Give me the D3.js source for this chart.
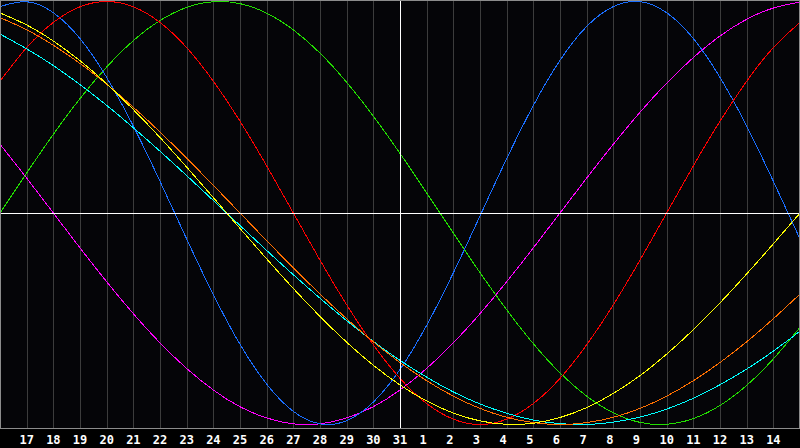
<!DOCTYPE html>
<html>
<head>
<meta charset="utf-8">
<script src="https://cdn.jsdelivr.net/npm/d3@7"></script>
<style>
html,body{margin:0;padding:0;background:#000;}
svg{display:block;}
</style>
</head>
<body>
<svg id="chart" width="800" height="448"></svg>
<script>
// Day labels for each grid column (index 0 = left edge, 30 = right edge)
const days = ["16","17","18","19","20","21","22","23","24","25","26","27","28","29","30","31",
              "1","2","3","4","5","6","7","8","9","10","11","12","13","14","15"];
const todayIndex = 15; // "31"

// Series values per day (range -1 .. 1)
const red = [0.623,0.782,0.901,0.975,1.000,0.975,0.901,0.782,0.623,0.434,0.223,0,-0.223,-0.434,-0.623,-0.782,
             -0.901,-0.975,-1.000,-0.975,-0.901,-0.782,-0.623,-0.434,-0.223,0,0.223,0.434,0.623,0.782,0.901];
const blue = [0.976,0.999,0.947,0.825,0.641,0.411,0.150,-0.123,-0.386,-0.621,-0.809,-0.938,-0.997,-0.982,-0.894,-0.740,
              -0.531,-0.283,-0.014,0.257,0.508,0.722,0.882,0.976,0.999,0.947,0.825,0.641,0.411,0.150,-0.123];
const green = [0,0.189,0.372,0.541,0.690,0.815,0.910,0.972,0.999,0.990,0.945,0.866,0.756,0.618,0.458,0.282,
               0.095,-0.095,-0.282,-0.458,-0.618,-0.756,-0.866,-0.945,-0.990,-0.999,-0.972,-0.910,-0.815,-0.690,-0.541];
const magenta = [0.325,0.165,0,-0.165,-0.325,-0.476,-0.614,-0.735,-0.837,-0.916,-0.969,-0.997,-0.997,-0.969,-0.916,-0.837,
                 -0.735,-0.614,-0.476,-0.325,-0.165,0,0.165,0.325,0.476,0.614,0.735,0.837,0.916,0.969,0.997];
const yellow = [0.946,0.889,0.813,0.720,0.611,0.489,0.357,0.217,0.073,-0.073,-0.217,-0.357,-0.489,-0.611,-0.720,-0.813,
                -0.889,-0.946,-0.983,-0.999,-0.994,-0.967,-0.920,-0.853,-0.769,-0.667,-0.552,-0.425,-0.288,-0.146,0];
const orange = [0.924,0.866,0.793,0.707,0.609,0.5,0.383,0.259,0.131,0,-0.131,-0.259,-0.383,-0.5,-0.609,-0.707,
                -0.793,-0.866,-0.924,-0.966,-0.991,-1,-0.991,-0.966,-0.924,-0.866,-0.793,-0.707,-0.609,-0.5,-0.383];
const cyan = [0.846,0.776,0.697,0.607,0.509,0.403,0.292,0.177,0.059,-0.059,-0.177,-0.292,-0.403,-0.509,-0.607,-0.697,
              -0.776,-0.846,-0.903,-0.947,-0.979,-0.996,-1.000,-0.989,-0.965,-0.927,-0.876,-0.812,-0.738,-0.653,-0.559];

const series = [
  {name:"green", values: green, color:"#22dd00"},
  {name:"magenta", values: magenta, color:"#ff00ff"},
  {name:"blue", values: blue, color:"#1a6eff"},
  {name:"red", values: red, color:"#ff0000"},
  {name:"cyan", values: cyan, color:"#00ffff"},
  {name:"orange", values: orange, color:"#ff7000"},
  {name:"yellow", values: yellow, color:"#ffff00"}
];

const W = 800, H = 448, plotH = 428;
const svg = d3.select("#chart");

svg.append("rect").attr("x",0).attr("y",0).attr("width",W).attr("height",H).attr("fill","#000");
svg.append("rect").attr("x",0).attr("y",0).attr("width",W).attr("height",plotH).attr("fill","#050508");

const x = d3.scaleLinear().domain([0, days.length - 1]).range([0, W]);
const y = d3.scaleLinear().domain([-1, 1]).range([424.5, 1.5]);

const px = v => Math.round(v) + 0.5;

// vertical grid lines
const inner = d3.range(1, days.length - 1);
svg.append("g").selectAll("line").data(inner.filter(i => i !== todayIndex)).join("line")
  .attr("x1", i => px(x(i))).attr("x2", i => px(x(i)))
  .attr("y1", 0).attr("y2", plotH)
  .attr("stroke", "#3c3c3c").attr("stroke-width", 1).attr("shape-rendering","crispEdges");

// border
svg.append("rect").attr("x",0.5).attr("y",0.5).attr("width",W-1).attr("height",plotH-0.5)
  .attr("fill","none").attr("stroke","#8c8c8c").attr("stroke-width",1).attr("shape-rendering","crispEdges");

// curves
const line = d3.line().x((d,i) => x(i)).y(d => y(d)).curve(d3.curveNatural);
const clip = svg.append("clipPath").attr("id","clip").append("rect")
  .attr("x",1).attr("y",1).attr("width",W-2).attr("height",plotH-1);
svg.append("g").attr("clip-path","url(#clip)").selectAll("path").data(series).join("path")
  .attr("d", d => line(d.values))
  .attr("fill","none").attr("stroke", d => d.color).attr("stroke-width",1)
  .attr("shape-rendering","crispEdges");

// zero line and today line
svg.append("line").attr("x1",1).attr("x2",W-1).attr("y1",px(y(0))).attr("y2",px(y(0)))
  .attr("stroke","#ffffff").attr("stroke-width",1).attr("shape-rendering","crispEdges");
svg.append("line").attr("x1",px(x(todayIndex))).attr("x2",px(x(todayIndex))).attr("y1",1).attr("y2",plotH)
  .attr("stroke","#ffffff").attr("stroke-width",1).attr("shape-rendering","crispEdges");

// day labels
svg.append("g").selectAll("text").data(inner).join("text")
  .attr("x", i => x(i) - 7.2).attr("y", 444)
  .attr("fill","#ffffff")
  .attr("font-family","'DejaVu Sans Mono', monospace")
  .attr("font-weight","bold").attr("font-size","12px")
  .text(i => days[i]);
</script>
</body>
</html>
